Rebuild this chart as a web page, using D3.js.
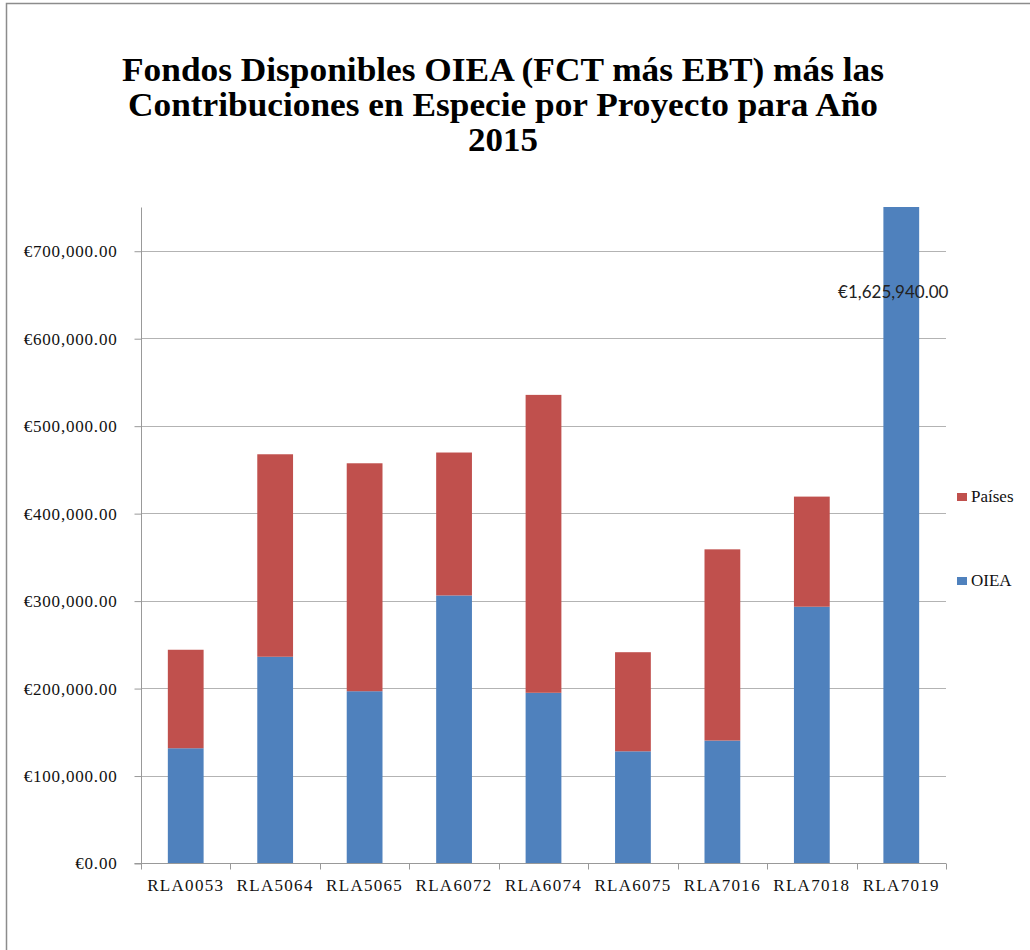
<!DOCTYPE html>
<html>
<head>
<meta charset="utf-8">
<script src="https://cdn.jsdelivr.net/npm/d3@7"></script>
<style>
  body { margin: 0; background: #fff; }
  svg { display: block; }
</style>
</head>
<body>
<script>
// Datos
const proyectos = ["RLA0053", "RLA5064", "RLA5065", "RLA6072", "RLA6074", "RLA6075", "RLA7016", "RLA7018", "RLA7019"];
const oiea   = [131200, 235800, 196400, 305900, 194600, 127700, 140000, 293000, 1625940];
const paises = [112600, 231500, 260600, 163400, 340600, 113300, 218600, 125900, 0];
const series = ["OIEA", "Países"];
const colores = ["#4F81BD", "#C0504D"];
const yTicks = [0, 100000, 200000, 300000, 400000, 500000, 600000, 700000];
const yMax = 750000;
const tituloLineas = [
  "Fondos Disponibles OIEA (FCT más EBT) más las",
  "Contribuciones en Especie por Proyecto para Año",
  "2015"
];

const W = 1030, H = 950;
const plot = { left: 141, right: 946, top: 207, bottom: 863 };
const serif = "'Liberation Serif', 'Times New Roman', serif";

const svg = d3.select("body").append("svg")
  .attr("width", W).attr("height", H);

// Marco del gráfico
svg.append("rect")
  .attr("x", 6.5).attr("y", 3.5)
  .attr("width", W + 10).attr("height", H + 10)
  .attr("fill", "none").attr("stroke", "#8c8c8c").attr("stroke-width", 1.5);

// Título
const titleWidths = [762, 750, 70];
svg.append("g").selectAll("text")
  .data(tituloLineas)
  .join("text")
  .attr("x", 503)
  .attr("y", (d, i) => 81 + i * 35)
  .attr("text-anchor", "middle")
  .attr("textLength", (d, i) => titleWidths[i])
  .attr("lengthAdjust", "spacingAndGlyphs")
  .style("font-family", serif)
  .style("font-weight", "bold")
  .style("font-size", "34px")
  .text(d => d);

// Escalas
const x = d3.scaleBand().domain(proyectos).range([plot.left, plot.right]).paddingInner(0.6).paddingOuter(0.3);
const y = d3.scaleLinear().domain([0, yMax]).range([plot.bottom, plot.top]);
const color = d3.scaleOrdinal().domain(series).range(colores);

// Cuadrícula
svg.append("g").selectAll("line")
  .data(yTicks.filter(d => d > 0))
  .join("line")
  .attr("x1", plot.left).attr("x2", plot.right)
  .attr("y1", d => Math.round(y(d)) + 0.5).attr("y2", d => Math.round(y(d)) + 0.5)
  .attr("stroke", "#b3b3b3").attr("stroke-width", 1);

// Eje Y
const yAxis = svg.append("g")
  .attr("transform", `translate(${plot.left + 0.5},0.5)`)
  .call(d3.axisLeft(y).tickValues(yTicks).tickSize(7).tickPadding(17)
    .tickFormat(d => "€" + d3.format(",.2f")(d)));
yAxis.select(".domain").attr("stroke", "#999").attr("d", `M-7,${Math.round(plot.bottom)}H0V${plot.top}`);
yAxis.selectAll(".tick line").attr("stroke", "#999");
yAxis.selectAll(".tick text")
  .style("font-family", serif)
  .style("font-size", "17px")
  .style("letter-spacing", "0.8px")
  .attr("fill", "#111");

// Barras apiladas
const tabla = proyectos.map((p, i) => ({ proyecto: p, "OIEA": oiea[i], "Países": paises[i] }));
const stack = d3.stack().keys(series)(tabla);

svg.append("clipPath").attr("id", "clip")
  .append("rect").attr("x", plot.left).attr("y", plot.top)
  .attr("width", plot.right - plot.left).attr("height", plot.bottom - plot.top);

svg.append("g").attr("clip-path", "url(#clip)")
  .selectAll("g")
  .data(stack)
  .join("g")
  .attr("fill", d => color(d.key))
  .selectAll("rect")
  .data(d => d)
  .join("rect")
  .attr("x", d => x(d.data.proyecto))
  .attr("width", x.bandwidth())
  .attr("y", d => y(d[1]))
  .attr("height", d => Math.max(0, y(d[0]) - y(d[1])));

// Eje X
const xAxis = svg.append("g")
  .attr("transform", `translate(0,${Math.round(plot.bottom) + 0.5})`)
  .call(d3.axisBottom(x).tickSize(0).tickPadding(15));
xAxis.select(".domain").attr("stroke", "#999").attr("d", `M${plot.left},0H${plot.right}`);
xAxis.selectAll(".tick text")
  .style("font-family", serif)
  .style("font-size", "17px")
  .style("letter-spacing", "1.3px")
  .attr("fill", "#111");

// Marcas entre categorías
const step = (plot.right - plot.left) / proyectos.length;
xAxis.append("g").selectAll("line")
  .data(d3.range(proyectos.length + 1))
  .join("line")
  .attr("x1", i => Math.round(plot.left + i * step) + 0.5)
  .attr("x2", i => Math.round(plot.left + i * step) + 0.5)
  .attr("y1", 0).attr("y2", 6)
  .attr("stroke", "#999");

// Etiqueta de la barra recortada
const ultimo = proyectos.length - 1;
svg.append("text")
  .attr("x", x(proyectos[ultimo]) + x.bandwidth() / 2 - 8)
  .attr("y", 298)
  .attr("text-anchor", "middle")
  .style("font-family", "Lato, 'Liberation Sans', sans-serif")
  .style("font-size", "17px")
  .attr("fill", "#222")
  .text("€" + d3.format(",.2f")(oiea[ultimo]));

// Leyenda
const leyenda = svg.append("g").selectAll("g")
  .data(["Países", "OIEA"])
  .join("g")
  .attr("transform", (d, i) => `translate(957,${493 + i * 84})`);
leyenda.append("rect").attr("width", 10).attr("height", 8).attr("fill", d => color(d));
leyenda.append("text")
  .attr("x", 14).attr("y", 9)
  .style("font-family", serif)
  .style("font-size", "17px")
  .attr("fill", "#111")
  .text(d => d);
</script>
</body>
</html>
